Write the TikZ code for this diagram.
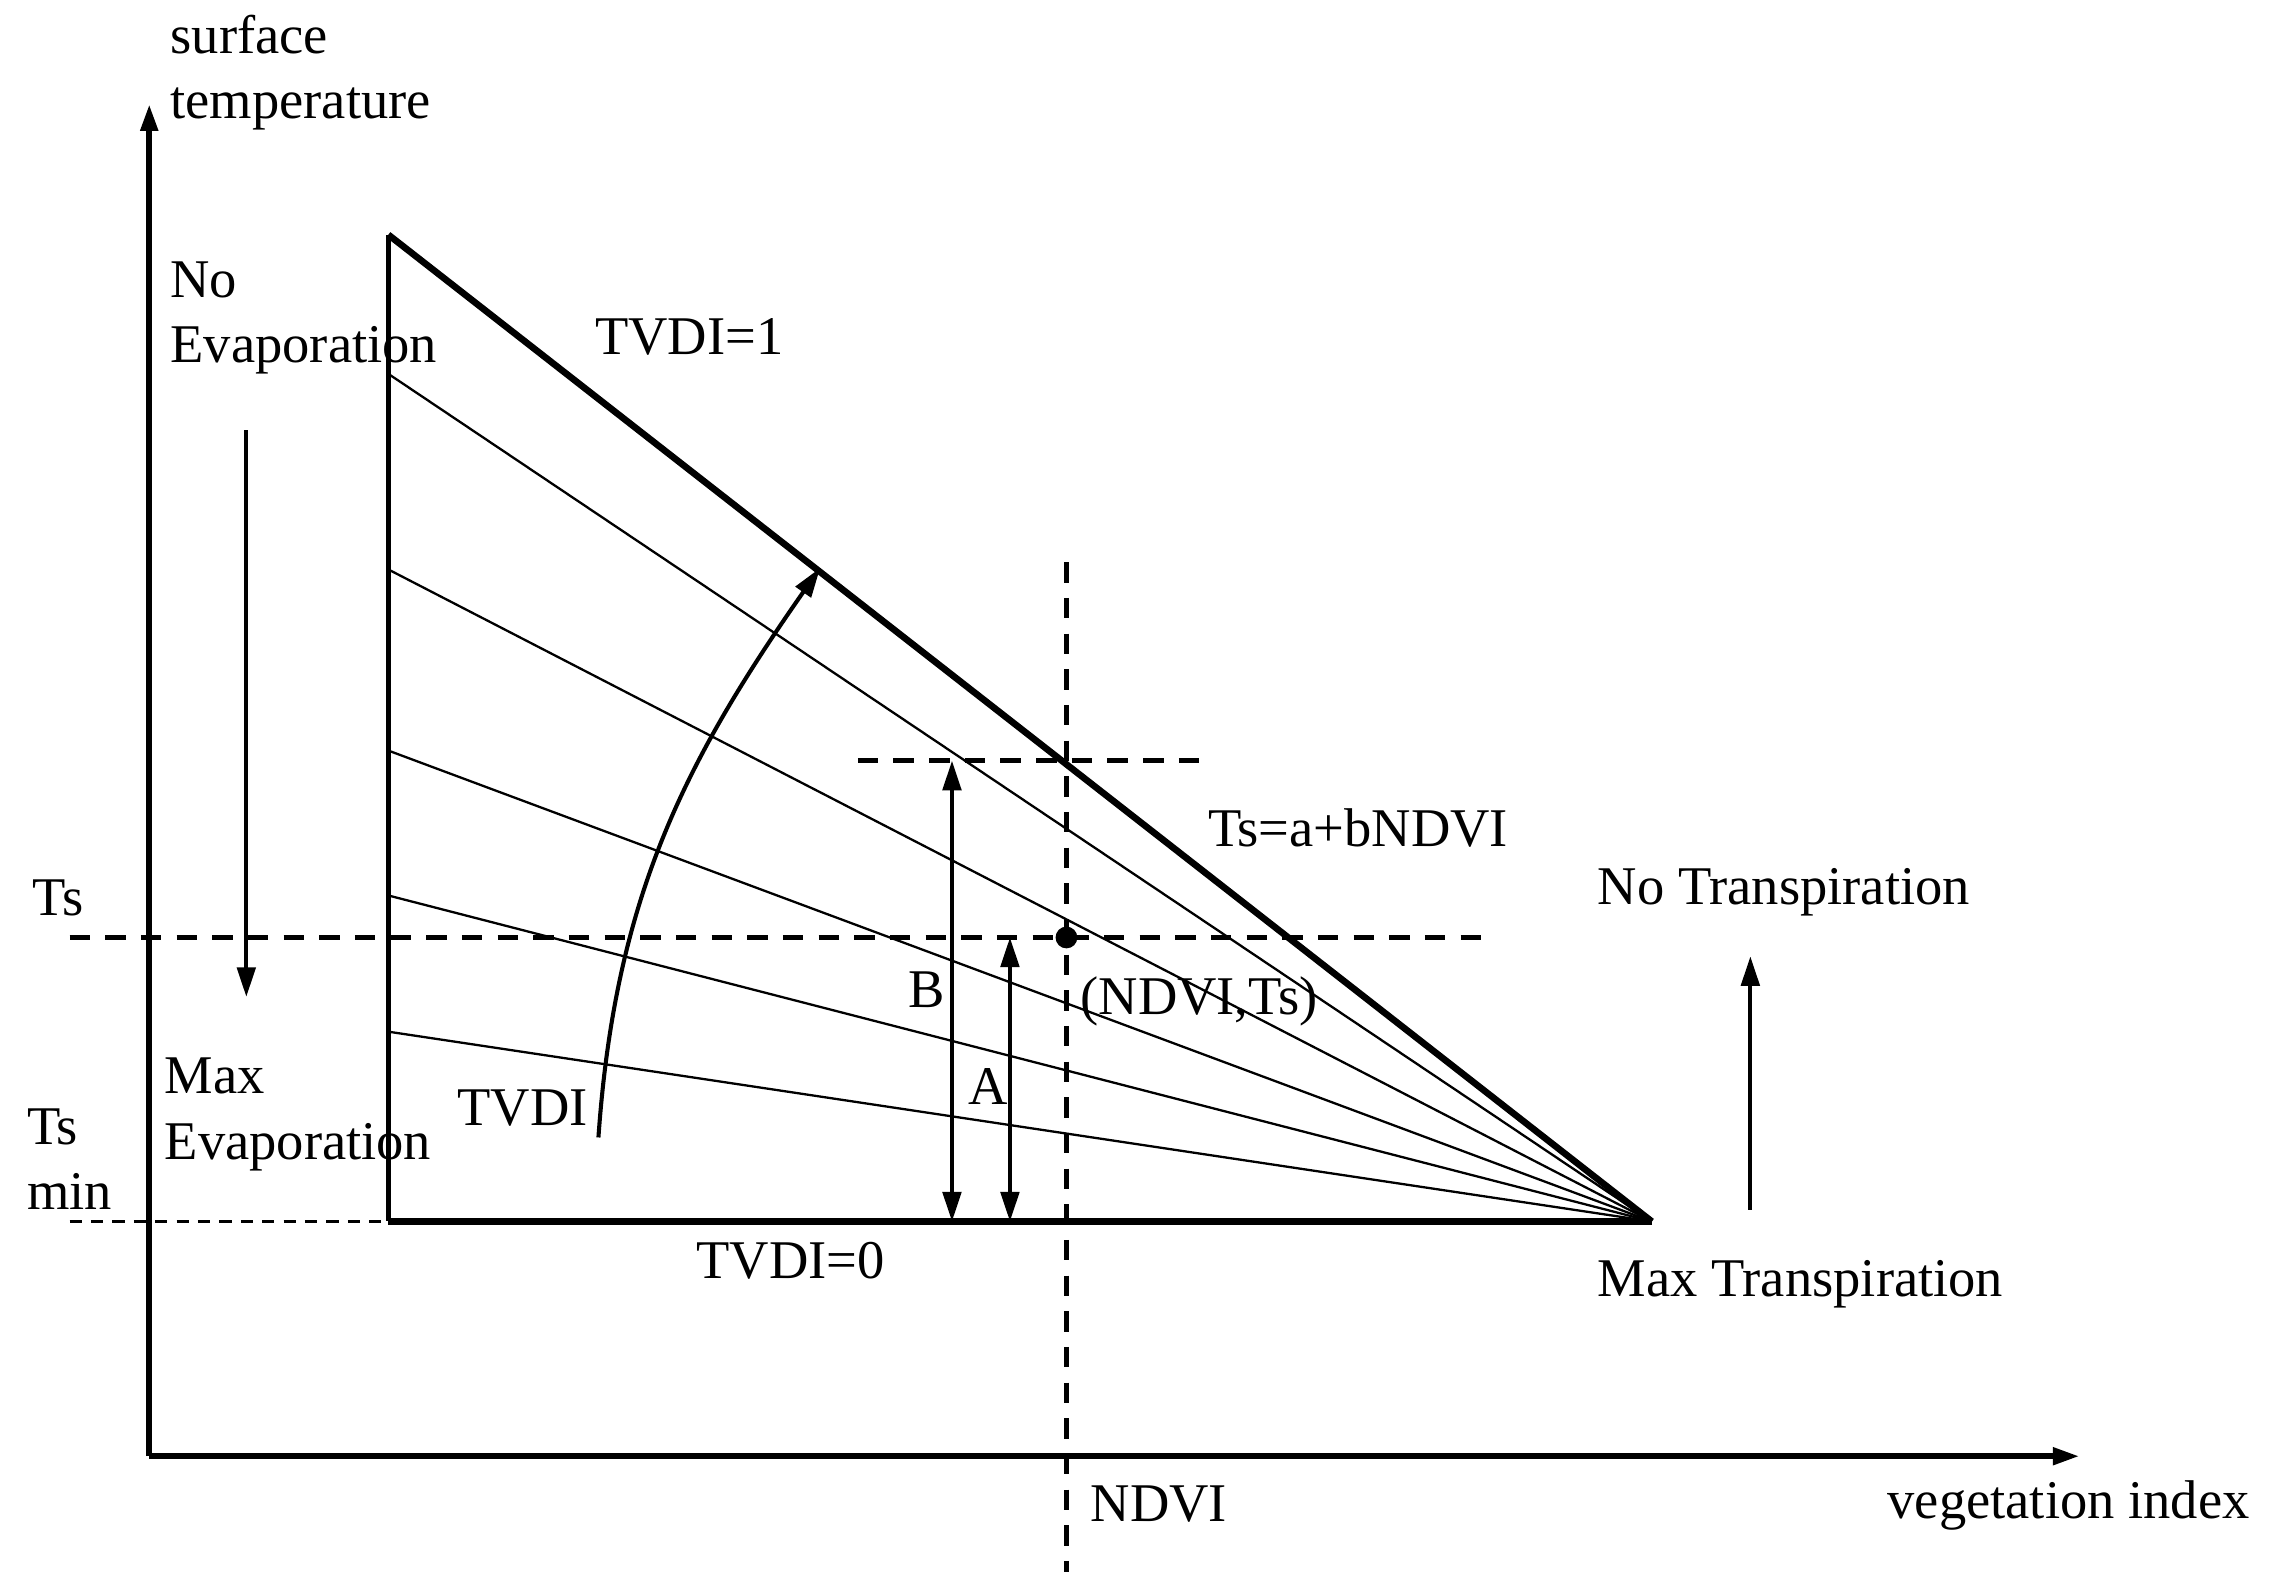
\documentclass[tikz,border=0pt]{standalone}
\usepackage{fontspec}
\setmainfont{Liberation Serif}
\usetikzlibrary{arrows.meta}

\tikzset{
  axisline/.style={line width=1.1pt,-{Triangle[length=5.2pt,width=3.3pt]}},
  dryedge/.style={line width=1.3pt},
  wetedge/.style={line width=1.4pt},
  isoline/.style={line width=0.45pt},
  guide/.style={line width=0.9pt,dash pattern=on 4pt off 3pt},
  thinguide/.style={line width=0.45pt,dash pattern=on 2.4pt off 1.8pt},
  arr/.style={line width=0.8pt,-{Triangle[length=5.8pt,width=3.6pt]}},
  dblarr/.style={line width=0.8pt,{Triangle[length=5.8pt,width=3.6pt]}-{Triangle[length=5.8pt,width=3.6pt]}}
}

\begin{document}
\begin{tikzpicture}[x=0.01cm,y=-0.01cm,font=\fontsize{10.7}{12.8}\selectfont]

        \useasboundingbox (0,0) rectangle (1568,1100);

        % axes and triangle corners
        \coordinate (o)    at (103,1005);
        \coordinate (ytip) at (103,72);
        \coordinate (xtip) at (1435,1005);
        \coordinate (dry)  at (268,162);
        \coordinate (wet)  at (268,843);
        \coordinate (veg)  at (1140,843);

        \draw[axisline] (o) -- (ytip);
        \draw[axisline] (o) -- (xtip);

        \foreach \y in {258,393,518,618,712}
          \draw[isoline] (268,\y) -- (veg);
        \draw[line width=1pt] (dry) -- (wet);
        \draw[dryedge] (dry) -- (veg);
        \draw[wetedge] (wet) -- (veg);

        % guides
        \coordinate (ts1)   at (48,647);
        \coordinate (ts2)   at (1022,647);
        \coordinate (tmin)  at (48,843);
        \coordinate (nd1)   at (736,388);
        \coordinate (nd2)   at (736,1085);
        \coordinate (up1)   at (592,525);
        \coordinate (up2)   at (830,525);
        \coordinate (p)     at (736,647);

        \draw[guide] (ts1) -- (ts2);
        \draw[guide] (nd1) -- (nd2);
        \draw[guide] (up1) -- (up2);
        \draw[thinguide] (tmin) -- (wet);
        \fill (p) circle (0.075cm);

        % arrows
        \coordinate (b1) at (657,525);
        \coordinate (b2) at (657,843);
        \coordinate (a1) at (697,647);
        \coordinate (a2) at (697,843);
        \coordinate (ev1) at (170,297);
        \coordinate (ev2) at (170,688);
        \coordinate (tr1) at (1208,835);
        \coordinate (tr2) at (1208,660);
        \coordinate (c1) at (413,785);
        \coordinate (c2) at (566,392);

        \draw[dblarr] (b1) -- (b2);
        \draw[dblarr] (a1) -- (a2);
        \draw[arr] (ev1) -- (ev2);
        \draw[arr] (tr1) -- (tr2);
        \draw[arr] (c1) to[out=86,in=-125] (c2);

        \begin{scope}[every node/.style={anchor=base west,inner sep=0pt,align=left}]
          \node (ylab)  at (117,82)   {surface\\temperature};
          \node (noev)  at (117,250)  {No\\Evaporation};
          \node (maxev) at (113,800)  {Max\\Evaporation};
          \node (tslab) at (22,632)   {Ts};
          \node (tsmin) at (18,835)   {Ts\\min};
          \node (t1)    at (410,245)  {TVDI=1};
          \node (t0)    at (480,882)  {TVDI=0};
          \node (tv)    at (315,777)  {TVDI};
          \node (blab)  at (626,695)  {B};
          \node (alab)  at (668,762)  {A};
          \node (plab)  at (745,700)  {(NDVI,Ts)};
          \node (eq)    at (833,584)  {Ts=a+bNDVI};
          \node (notr)  at (1102,624) {No Transpiration};
          \node (maxtr) at (1102,895) {Max Transpiration};
          \node (ndlab) at (752,1050) {NDVI};
          \node (xlab)  at (1302,1048) {vegetation index};
        \end{scope}

      \end{tikzpicture}
\end{document}
